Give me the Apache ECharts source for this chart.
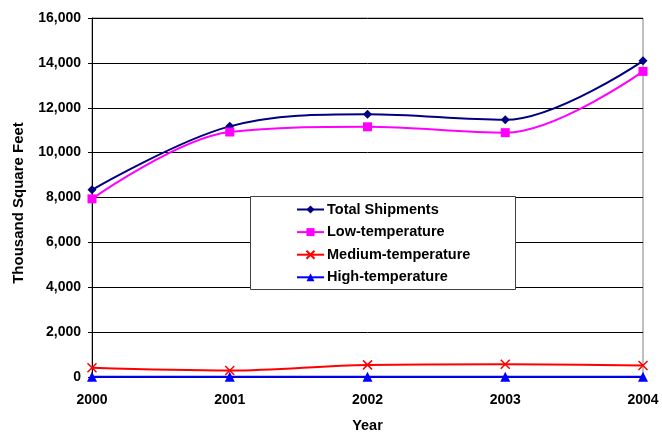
<!DOCTYPE html>
<html><head><meta charset="utf-8">
<script src="https://cdn.jsdelivr.net/npm/echarts@6/dist/echarts.min.js"></script>
<style>html,body{margin:0;padding:0;background:#fff;overflow:hidden}#c{width:662px;height:434px}</style>
</head><body><div id="c"></div>
<script>
const years = ['2000','2001','2002','2003','2004'];
const totalShipments = [8340, 11170, 11710, 11460, 14090];
const lowTemp = [7940, 10920, 11150, 10890, 13620];
const mediumTemp = [410, 290, 540, 570, 510];
const highTemp = [10, 10, 10, 10, 10];
const yTicks = {min: 0, max: 16000, interval: 2000};

const font = 'Liberation Sans, Arial, sans-serif';
const xPath = 'path://M0,0L10,10M10,0L0,10';
function mk(name, data, color, symbol, size, extra) {
  return Object.assign({
    name, type: 'line', data, smooth: 0.35, symbol, symbolSize: size,
    lineStyle: {color, width: 2}, itemStyle: {color}, z: 3
  }, extra || {});
}
const chart = echarts.init(document.getElementById('c'), null, {renderer: 'canvas'});
chart.setOption({
  animation: false,
  backgroundColor: '#fff',
  textStyle: {fontFamily: font},
  grid: {left: 92, right: 19, top: 18, bottom: 57, show: true, borderColor: '#808080', borderWidth: 1,
    outerBoundsMode: 'none', containLabel: false},
  xAxis: {
    type: 'category', data: years, boundaryGap: false,
    name: 'Year', nameLocation: 'middle', nameGap: 41,
    nameTextStyle: {fontFamily: font, fontWeight: 'bold', fontSize: 14.5, color: '#000'},
    axisLine: {lineStyle: {color: '#000'}},
    axisTick: {show: false},
    axisLabel: {fontFamily: font, fontWeight: 'bold', fontSize: 14, color: '#000', margin: 16},
    splitLine: {show: false}
  },
  yAxis: {
    type: 'value', min: yTicks.min, max: yTicks.max, interval: yTicks.interval,
    name: 'Thousand Square Feet', nameLocation: 'middle', nameGap: 66, nameRotate: 90,
    nameTextStyle: {fontFamily: font, fontWeight: 'bold', fontSize: 15, color: '#000', padding: [0, 11, 0, 0]},
    axisLine: {show: true, lineStyle: {color: '#000'}},
    axisTick: {show: true, length: 4, lineStyle: {color: '#000'}},
    axisLabel: {fontFamily: font, fontWeight: 'bold', fontSize: 14, color: '#000', margin: 11,
      formatter: v => v.toLocaleString('en-US')},
    splitLine: {lineStyle: {color: '#000', width: 1}}
  },
  legend: {
    orient: 'vertical', left: 291, top: 197, itemGap: 7.6, itemWidth: 27, itemHeight: 10,
    textStyle: {fontFamily: font, fontWeight: 'bold', fontSize: 14.5, lineHeight: 14, color: '#000', padding: [0, 0, 0, -2]},
    data: ['Total Shipments','Low-temperature','Medium-temperature','High-temperature']
  },
  graphic: [{
    type: 'rect', left: 250, top: 196, z: 2,
    shape: {width: 265, height: 93},
    style: {fill: '#fff', stroke: '#404040', lineWidth: 1}
  }],
  series: [
    mk('Total Shipments', totalShipments, '#000080', 'diamond', 9),
    mk('Low-temperature', lowTemp, '#ff00ff', 'rect', 9),
    mk('Medium-temperature', mediumTemp, '#ff0000', xPath, 9,
       {itemStyle: {color: '#ff0000', borderColor: '#ff0000', borderWidth: 1.5}}),
    mk('High-temperature', highTemp, '#0000ff', 'triangle', 10)
  ]
});
</script></body></html>
